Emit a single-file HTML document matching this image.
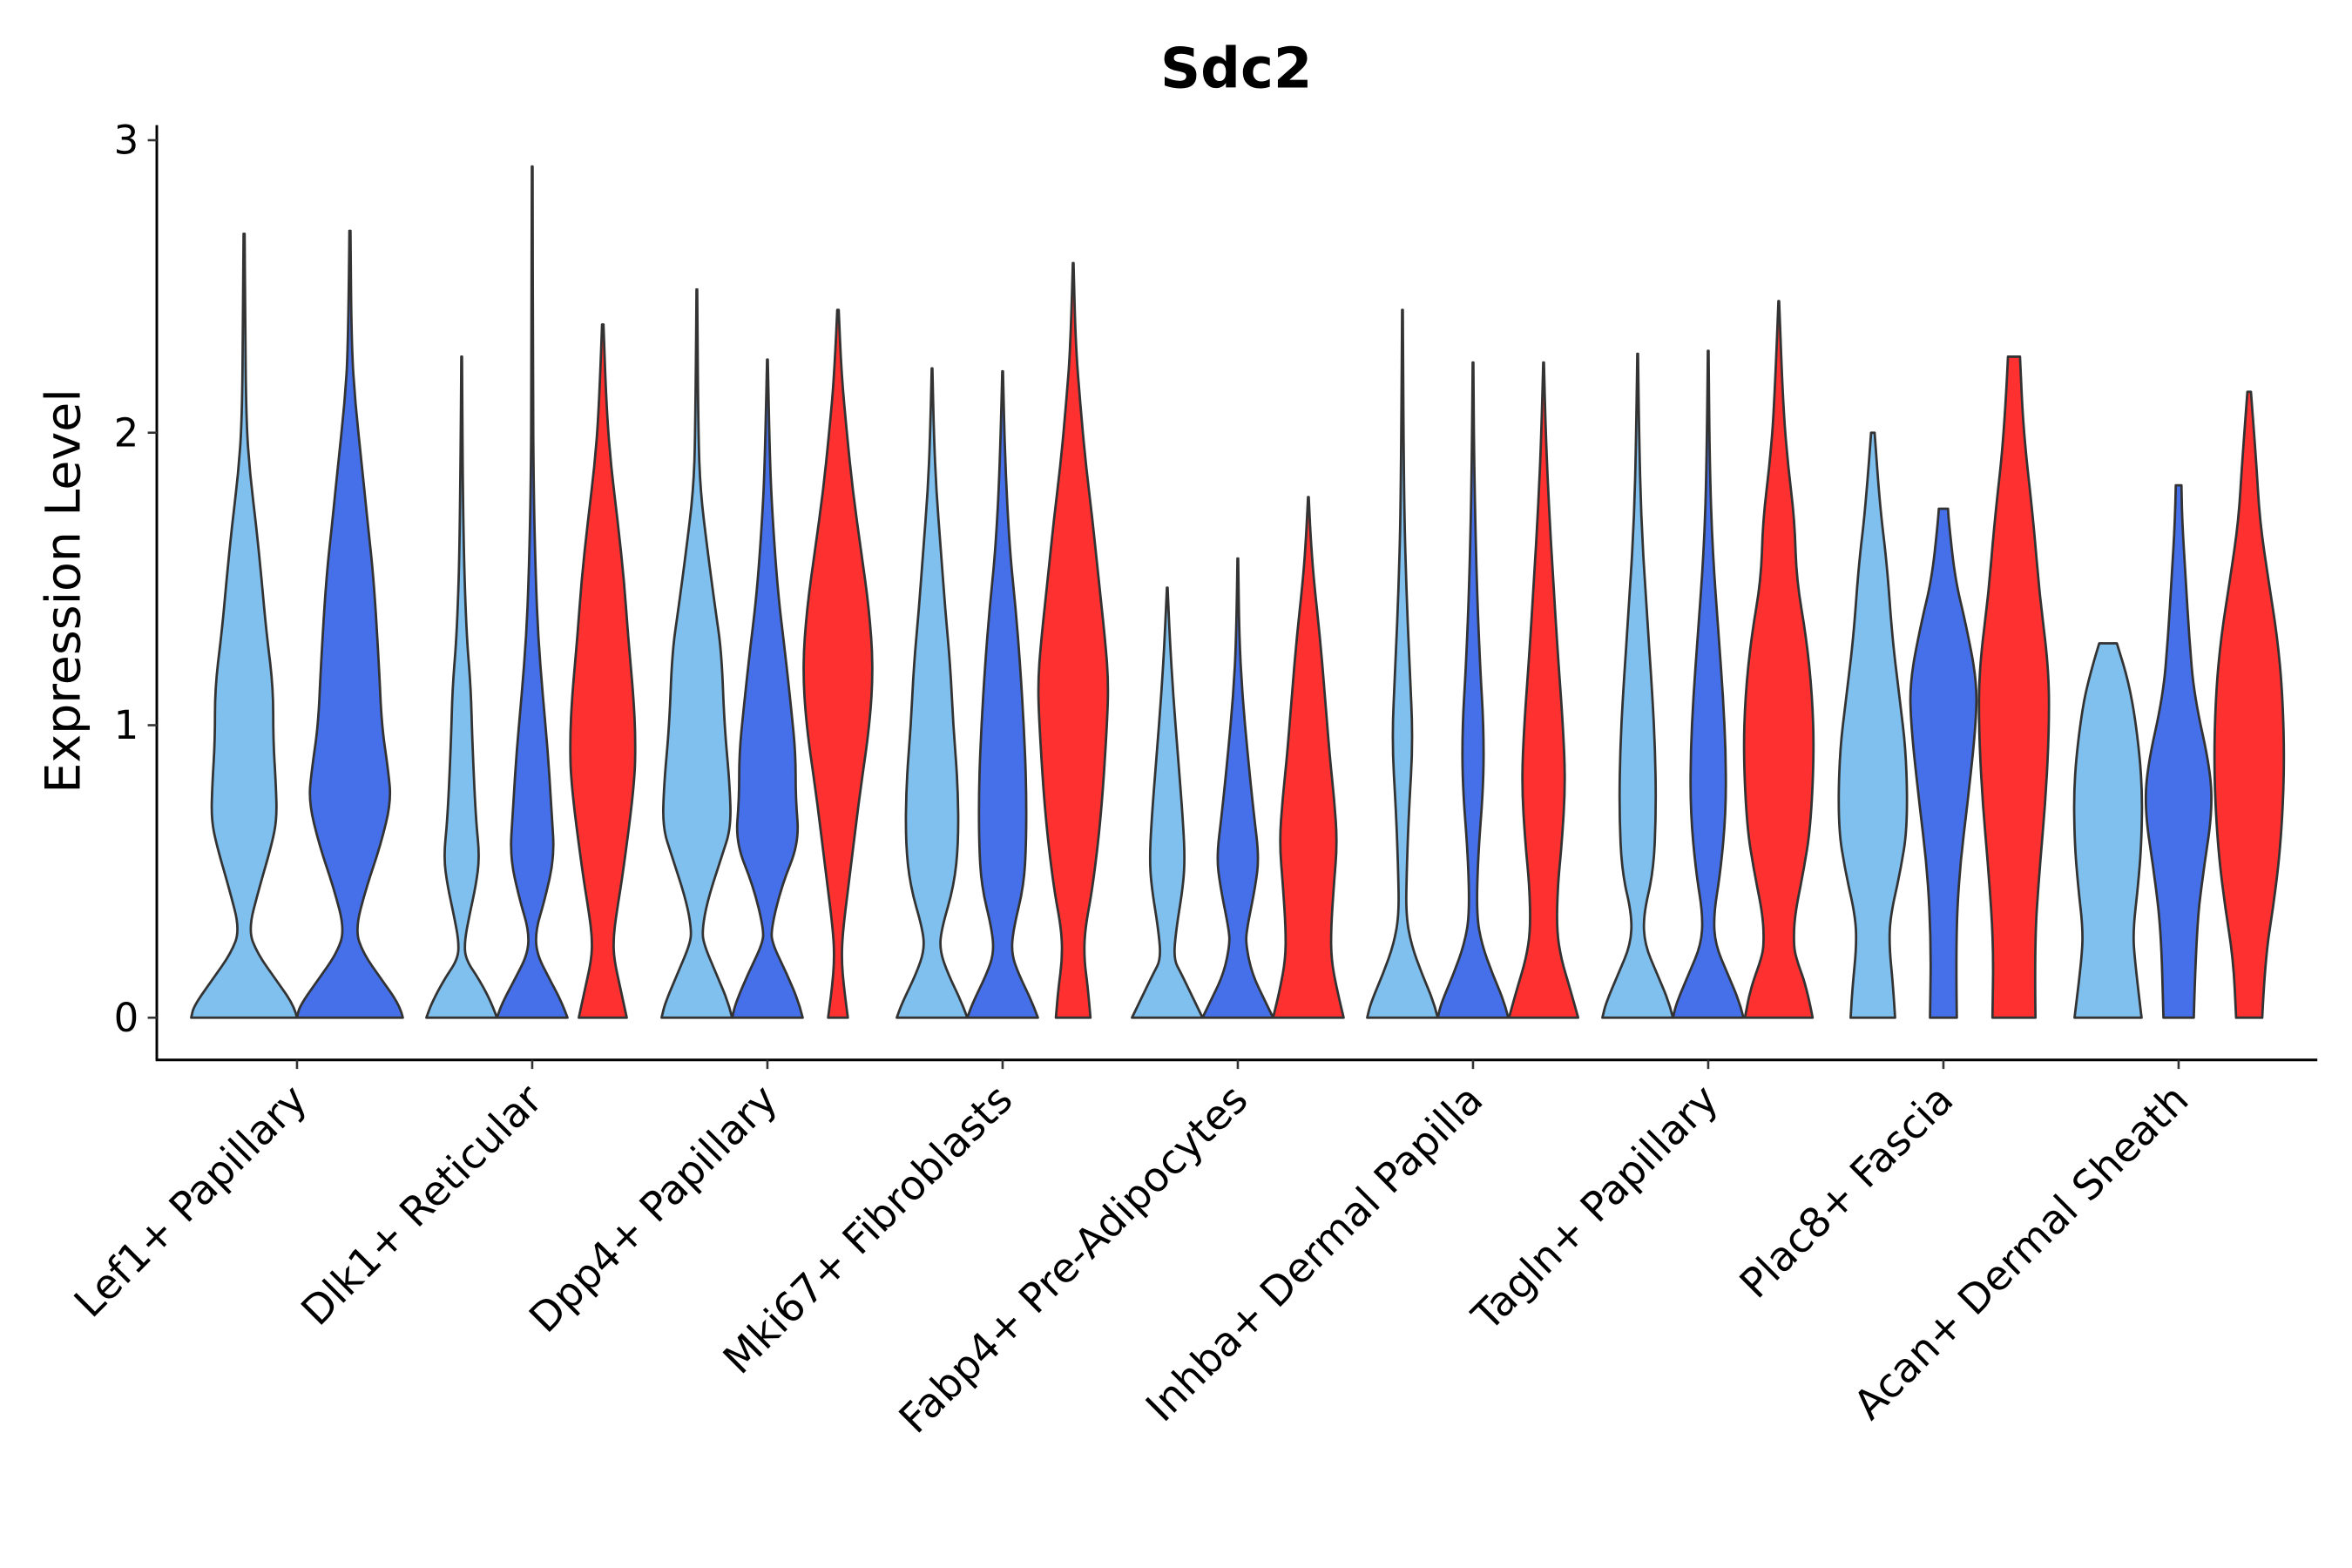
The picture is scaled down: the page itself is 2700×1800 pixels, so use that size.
<!DOCTYPE html>
<html><head><meta charset="utf-8"><style>
html,body{margin:0;padding:0;background:#fff}
svg{display:block}
text{font-family:"DejaVu Sans","Liberation Sans",sans-serif;fill:#000}
</style></head><body>
<svg id="chart" width="2700" height="1800" viewBox="0 0 1560 1040" xmlns="http://www.w3.org/2000/svg">
<text x="820" y="58" font-size="37" font-weight="bold" text-anchor="middle">Sdc2</text>
<text transform="translate(53,392) rotate(-90)" font-size="32" text-anchor="middle">Expression Level</text>
<g id="plot"></g>
</svg>
<script>
const categories = ["Lef1+ Papillary","Dlk1+ Reticular","Dpp4+ Papillary","Mki67+ Fibroblasts","Fabp4+ Pre-Adipocytes","Inhba+ Dermal Papilla","Tagln+ Papillary","Plac8+ Fascia","Acan+ Dermal Sheath"];
const yTicks = [0,1,2,3];
const condColors = ["#80C0EE","#4570EA","#FF3030"];
// each violin: group index, condition index, density profile (values and relative widths)
const violinGroup = [0,0, 1,1,1, 2,2,2, 3,3,3, 4,4,4, 5,5,5, 6,6,6, 7,7,7, 8,8,8];
const violinCond  = [0,1, 0,1,2, 0,1,2, 0,1,2, 0,1,2, 0,1,2, 0,1,2, 0,1,2, 0,1,2];
const violinY = [
 [0,0.04,0.13,0.22,0.3,0.44,0.59,0.68,0.8,0.95,1.13,1.32,1.5,1.68,1.86,2.04,2.4,2.68],
 [0,0.04,0.13,0.22,0.3,0.44,0.59,0.74,0.85,1.0,1.2,1.5,1.7,1.9,2.1,2.3,2.69],
 [0,0.05,0.13,0.2,0.26,0.35,0.45,0.55,0.68,0.95,1.13,1.32,1.68,2.26],
 [0,0.05,0.13,0.22,0.3,0.4,0.55,0.7,0.9,1.1,1.3,1.5,1.8,2.2,2.91],
 [0,0.1,0.2,0.27,0.35,0.5,0.8,0.95,1.1,1.3,1.5,1.7,1.9,2.1,2.37],
 [0,0.05,0.15,0.25,0.3,0.4,0.55,0.65,0.8,1.0,1.25,1.4,1.6,1.8,2.0,2.49],
 [0,0.05,0.15,0.25,0.3,0.45,0.6,0.75,0.9,1.05,1.25,1.45,1.7,1.9,2.25],
 [0,0.1,0.2,0.3,0.5,0.75,1.0,1.2,1.4,1.6,1.8,2.0,2.2,2.42],
 [0,0.05,0.15,0.23,0.3,0.45,0.6,0.8,1.0,1.2,1.4,1.6,1.8,2.0,2.22],
 [0,0.05,0.15,0.22,0.3,0.45,0.6,0.8,1.0,1.2,1.4,1.6,1.9,2.21],
 [0,0.1,0.2,0.3,0.45,0.7,1.0,1.15,1.3,1.5,1.7,1.9,2.1,2.3,2.58],
 [0,0.05,0.15,0.2,0.3,0.45,0.55,0.7,0.9,1.1,1.3,1.47],
 [0,0.05,0.15,0.25,0.3,0.45,0.55,0.7,0.9,1.1,1.3,1.57],
 [0,0.1,0.2,0.3,0.45,0.6,0.75,0.9,1.1,1.3,1.5,1.65,1.78],
 [0,0.05,0.15,0.25,0.35,0.5,0.7,0.95,1.2,1.5,1.8,2.42],
 [0,0.05,0.15,0.25,0.35,0.55,0.8,1.0,1.2,1.5,1.9,2.24],
 [0,0.1,0.2,0.3,0.45,0.6,0.8,1.0,1.25,1.5,1.75,2.0,2.24],
 [0,0.05,0.15,0.25,0.35,0.5,0.7,0.9,1.1,1.4,1.7,2.0,2.27],
 [0,0.05,0.15,0.25,0.35,0.5,0.7,0.9,1.1,1.3,1.6,1.9,2.28],
 [0,0.1,0.2,0.25,0.35,0.5,0.65,0.9,1.1,1.3,1.5,1.7,1.9,2.1,2.45],
 [0,0.1,0.25,0.35,0.5,0.65,0.9,1.1,1.3,1.55,1.75,2.0],
 [0,0.25,0.5,0.75,1.0,1.15,1.35,1.5,1.7,1.74],
 [0,0.25,0.5,0.75,1.0,1.2,1.45,1.7,2.0,2.26],
 [0,0.2,0.3,0.45,0.6,0.8,1.0,1.15,1.28],
 [0,0.3,0.5,0.7,0.85,1.1,1.3,1.5,1.7,1.82],
 [0,0.2,0.4,0.6,0.85,1.1,1.3,1.5,1.7,1.9,2.14]
];
const violinW = [
 [1,0.95,0.6,0.25,0.08,0.28,0.52,0.62,0.6,0.55,0.55,0.42,0.33,0.23,0.11,0.04,0.02,0.01],
 [1,0.95,0.6,0.25,0.1,0.3,0.58,0.78,0.72,0.6,0.55,0.45,0.33,0.22,0.1,0.03,0.01],
 [1,0.85,0.5,0.11,0.08,0.22,0.4,0.51,0.4,0.3,0.26,0.13,0.04,0.01],
 [1,0.85,0.5,0.12,0.1,0.35,0.63,0.55,0.45,0.3,0.17,0.1,0.04,0.02,0.01],
 [0.68,0.5,0.32,0.3,0.38,0.58,0.9,0.93,0.87,0.72,0.6,0.42,0.22,0.1,0.02],
 [1,0.9,0.55,0.2,0.15,0.3,0.7,0.97,0.93,0.78,0.7,0.52,0.3,0.1,0.04,0.01],
 [1,0.9,0.55,0.15,0.1,0.4,0.9,0.8,0.8,0.68,0.5,0.3,0.15,0.07,0.01],
 [0.28,0.17,0.1,0.14,0.35,0.6,0.9,1.0,0.88,0.65,0.42,0.25,0.1,0.02],
 [1,0.85,0.45,0.22,0.26,0.62,0.75,0.73,0.6,0.52,0.37,0.25,0.12,0.05,0.01],
 [1,0.85,0.45,0.25,0.3,0.6,0.67,0.67,0.6,0.5,0.37,0.2,0.07,0.01],
 [0.49,0.42,0.31,0.33,0.56,0.8,0.96,1.0,0.9,0.72,0.55,0.35,0.2,0.07,0.01],
 [1,0.8,0.4,0.18,0.25,0.45,0.5,0.43,0.3,0.17,0.07,0.01],
 [1,0.8,0.4,0.23,0.25,0.5,0.6,0.45,0.28,0.13,0.04,0.01],
 [1,0.8,0.65,0.64,0.72,0.82,0.73,0.6,0.47,0.33,0.15,0.06,0.01],
 [1,0.9,0.55,0.25,0.1,0.12,0.18,0.3,0.2,0.1,0.04,0.01],
 [1,0.9,0.55,0.25,0.1,0.14,0.3,0.3,0.2,0.1,0.03,0.01],
 [0.98,0.75,0.5,0.37,0.4,0.52,0.62,0.55,0.4,0.27,0.15,0.06,0.01],
 [1,0.9,0.55,0.2,0.16,0.45,0.52,0.5,0.42,0.25,0.1,0.04,0.01],
 [1,0.9,0.55,0.2,0.15,0.35,0.5,0.5,0.42,0.3,0.12,0.04,0.01],
 [0.96,0.8,0.5,0.42,0.45,0.7,0.9,1.0,0.95,0.78,0.5,0.45,0.25,0.12,0.01],
 [0.63,0.58,0.46,0.5,0.78,0.98,0.95,0.75,0.55,0.4,0.2,0.05],
 [0.38,0.35,0.45,0.7,0.92,0.95,0.63,0.33,0.15,0.13],
 [0.61,0.58,0.72,0.9,1.0,0.98,0.72,0.55,0.27,0.17],
 [0.95,0.75,0.71,0.85,0.95,0.97,0.8,0.58,0.25],
 [0.43,0.5,0.7,0.95,0.9,0.44,0.3,0.2,0.1,0.08],
 [0.37,0.45,0.71,0.9,1.0,0.95,0.8,0.54,0.3,0.2,0.05]
];

const NS = "http://www.w3.org/2000/svg";
const plot = document.getElementById('plot');
const X0 = 104, XEND = 1537, YTOP = 83, YAX = 703;
const firstCenter = 197, groupStep = 156;
const yScale = v => 675 - v * 194;
const xScale = i => firstCenter + i * groupStep;

function mk(tag, attrs) {
  const e = document.createElementNS(NS, tag);
  for (const k in attrs) e.setAttribute(k, attrs[k]);
  plot.appendChild(e);
  return e;
}

const groupCounts = categories.map((_, g) => violinGroup.filter(x => x === g).length);
const groupSeen = categories.map(() => 0);
for (let v = 0; v < violinGroup.length; v++) {
  const g = violinGroup[v];
  const n = groupCounts[g];
  const k = groupSeen[g]++;
  const slot = 0.9 * groupStep / n;
  const cx = xScale(g) - 0.45 * groupStep + slot * (k + 0.5);
  const half = slot / 2;
  const ys = violinY[v], ws = violinW[v];
  const right = ys.map((y, i) => [cx + ws[i] * half, yScale(y)]);
  const left = ys.map((y, i) => [cx - ws[i] * half, yScale(y)]).reverse();
  function smooth(pts) {
    let d = '';
    for (let i = 1; i < pts.length - 1; i++) {
      const mx = (pts[i][0] + pts[i + 1][0]) / 2, my = (pts[i][1] + pts[i + 1][1]) / 2;
      d += ` Q ${pts[i][0].toFixed(2)} ${pts[i][1].toFixed(2)} ${mx.toFixed(2)} ${my.toFixed(2)}`;
    }
    const l = pts[pts.length - 1];
    d += ` L ${l[0].toFixed(2)} ${l[1].toFixed(2)}`;
    return d;
  }
  let d = `M ${right[0][0].toFixed(2)} ${right[0][1].toFixed(2)}` + smooth(right);
  d += ` L ${left[0][0].toFixed(2)} ${left[0][1].toFixed(2)}` + smooth(left) + ' Z';
  const p = mk('path', {d: d, fill: condColors[violinCond[v]], stroke: '#333', 'stroke-width': 1.6, 'stroke-linejoin': 'round'});
  
  
}

const ya = mk('line', {x1: X0, y1: YTOP, x2: X0, y2: YAX, stroke: '#000', 'stroke-width': 1.7});


const xa = mk('line', {x1: X0 - 0.8, y1: YAX, x2: XEND, y2: YAX, stroke: '#000', 'stroke-width': 1.7});



yTicks.forEach(t => {
  const y = yScale(t);
  const tk = mk('line', {x1: X0 - 6, y1: y, x2: X0, y2: y, stroke: '#333', 'stroke-width': 1.5});
  
  
  const tx = mk('text', {x: X0 - 12, y: y + 9, 'font-size': 26, 'text-anchor': 'end'});
  tx.textContent = String(t);
  
  
});

categories.forEach((c, i) => {
  const x = xScale(i);
  const tk = mk('line', {x1: x, y1: YAX, x2: x, y2: YAX + 6, stroke: '#333', 'stroke-width': 1.5});
  
  
  const tx = mk('text', {transform: `translate(${x + 8},${YAX + 28}) rotate(-45)`, 'font-size': 27, 'text-anchor': 'end'});
  tx.textContent = c;
  
  
});
</script>
</body></html>
